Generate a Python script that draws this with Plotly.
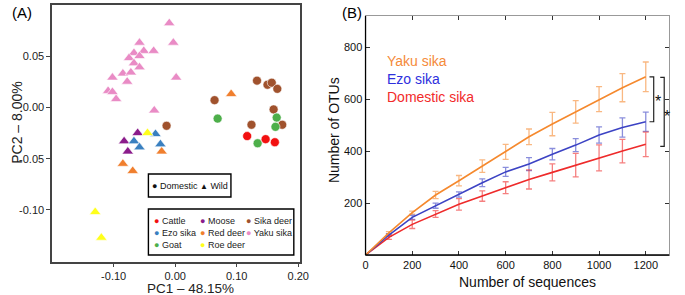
import plotly.graph_objects as go

# ---------------- Panel A data (PCA) ----------------
cattle_x = [0.117, 0.147, 0.162]
cattle_y = [-0.028, -0.031, -0.034]
goat_x = [0.069, 0.165, 0.163, 0.134]
goat_y = [-0.011, -0.010, -0.019, -0.035]
sika_x = [0.133, 0.150, 0.157, 0.166, 0.064, 0.160, 0.124, 0.174, -0.014]
sika_y = [0.026, 0.022, 0.024, 0.018, 0.007, -0.002, -0.017, -0.017, -0.018]
yaku_x = [-0.0096, -0.003, -0.058, -0.067, -0.051, -0.035, -0.058, -0.075, -0.067, -0.058,
          -0.085, -0.072, -0.102, 0.0016, -0.078, -0.109, -0.102, -0.096, -0.034]
yaku_y = [0.082, 0.063, 0.063, 0.053, 0.055, 0.055, 0.050, 0.048, 0.043, 0.039,
          0.033, 0.034, 0.029, 0.029, 0.025, 0.016, 0.015, 0.008, -0.003]
moose_x = [-0.061, -0.083, -0.077]
moose_y = [-0.025, -0.033, -0.043]
ezo_x = [-0.032, -0.067, -0.058, -0.024]
ezo_y = [-0.026, -0.033, -0.039, -0.036]
reddeer_x = [0.091, -0.022, -0.085, -0.069]
reddeer_y = [0.013, -0.043, -0.055, -0.062]
roe_x = [-0.045, -0.130, -0.120]
roe_y = [-0.025, -0.102, -0.127]

pca_xticks = [-0.10, 0.00, 0.10, 0.20]
pca_xticktext = ["-0.10", "0.00", "0.10", "0.20"]
pca_yticks = [0.05, 0.00, -0.05, -0.10]
pca_yticktext = ["0.05", "0.00", "-0.05", "-0.10"]

# ---------------- Panel B data (rarefaction) ----------------
seqs = [0, 100, 200, 300, 400, 500, 600, 700, 800, 900, 1000, 1100, 1200]
yaku_otu = [0, 85, 163, 231, 286, 342, 397, 455, 504, 551, 600, 644, 686]
yaku_err = [0, 5, 6, 14, 20, 24, 29, 30, 45, 43, 48, 54, 57]
ezo_otu = [0, 77, 145, 190, 233, 278, 320, 350, 388, 423, 462, 491, 513]
ezo_err = [0, 5, 8, 10, 10, 15, 17, 25, 22, 25, 31, 37, 37]
dom_otu = [0, 68, 118, 158, 195, 227, 259, 291, 318, 346, 374, 400, 426]
dom_err = [0, 8, 16, 13, 22, 20, 23, 37, 33, 45, 50, 45, 47]

otu_xticks = [0, 200, 400, 600, 800, 1000, 1200]
otu_yticks = [200, 400, 600, 800]

W, H = 685, 295
def px(x):
    return x / W
def py(y):
    return 1 - y / H

C = dict(cattle="#F21010", goat="#4DAF4A", sika="#A0522D", yaku="#E98BC5",
         moose="#8B1C8B", ezo="#3A80C0", reddeer="#F07F2E", roe="#FFFF1A")

fig = go.Figure()

def pts(x, y, col, sym):
    fig.add_trace(go.Scatter(
        x=x, y=y, mode="markers", xaxis="x", yaxis="y", showlegend=False,
        marker=dict(color=col, symbol=sym, size=10 if sym != "circle" else 9,
                    line=dict(color="white", width=0.6))))

pts(yaku_x, yaku_y, C["yaku"], "triangle-up")
pts(sika_x, sika_y, C["sika"], "circle")
pts(goat_x, goat_y, C["goat"], "circle")
pts(cattle_x, cattle_y, C["cattle"], "circle")
pts(reddeer_x, reddeer_y, C["reddeer"], "triangle-up")
pts(moose_x, moose_y, C["moose"], "triangle-up")
pts(ezo_x, ezo_y, C["ezo"], "triangle-up")
pts(roe_x, roe_y, C["roe"], "triangle-up")

# ---- Panel B ----
LC = dict(yaku="#F5892E", ezo="#3C43C4", dom="#EE2B2B")
EC = dict(yaku="rgba(245,137,46,0.6)", ezo="rgba(60,67,196,0.6)", dom="rgba(238,43,43,0.6)")
for key, vals, errs in [("yaku", yaku_otu, yaku_err), ("ezo", ezo_otu, ezo_err), ("dom", dom_otu, dom_err)]:
    fig.add_trace(go.Scatter(
        x=seqs[1:], y=vals[1:], mode="markers", xaxis="x2", yaxis="y2", showlegend=False,
        marker=dict(size=1, color="rgba(0,0,0,0)"),
        error_y=dict(type="data", array=errs[1:], visible=True, color=EC[key],
                     thickness=1.3, width=3)))
for key, vals in [("dom", dom_otu), ("ezo", ezo_otu), ("yaku", yaku_otu)]:
    fig.add_trace(go.Scatter(
        x=seqs, y=vals, mode="lines", xaxis="x2", yaxis="y2", showlegend=False,
        line=dict(color=LC[key], width=1.6)))

TF = "Liberation Sans, Arial, sans-serif"

fig.update_layout(
    width=W, height=H, margin=dict(l=0, r=0, t=0, b=0),
    paper_bgcolor="white", plot_bgcolor="white", showlegend=False,
    xaxis=dict(domain=[px(50), px(302)], range=[-0.2, 0.2024], anchor="y",
               tickvals=pca_xticks, ticktext=pca_xticktext, ticks="outside", ticklen=3,
               tickcolor="#444", showline=True, linecolor="#444", linewidth=1.5, mirror=True,
               showgrid=False, zeroline=False, tickfont=dict(family=TF, size=11, color="#222")),
    yaxis=dict(domain=[1 - 262 / H, 1 - 5 / H], range=[-0.1507, 0.0997], anchor="x",
               tickvals=pca_yticks, ticktext=pca_yticktext, ticks="outside", ticklen=4,
               tickcolor="#444", showline=True, linecolor="#444", linewidth=1.5, mirror=True,
               showgrid=False, zeroline=False, tickfont=dict(family=TF, size=11, color="#222")),
    xaxis2=dict(domain=[px(369), px(678)], range=[0, 1300], anchor="y2",
                tickvals=otu_xticks, ticks="inside", ticklen=4, tickcolor="#333",
                showline=True, linecolor="#999", linewidth=1, mirror="ticks",
                showgrid=False, zeroline=False, tickfont=dict(family=TF, size=11, color="#111")),
    yaxis2=dict(domain=[1 - 255 / H, 1 - 16 / H], range=[0, 920], anchor="x2",
                tickvals=otu_yticks, ticks="inside", ticklen=4, tickcolor="#333",
                showline=True, linecolor="#999", linewidth=1, mirror="ticks",
                showgrid=False, zeroline=False, tickfont=dict(family=TF, size=11, color="#111")),
)

shapes = []
# black left/bottom axis lines for panel B
shapes.append(dict(type="line", xref="paper", yref="paper", x0=px(369), x1=px(369),
                   y0=py(255), y1=py(16), line=dict(color="black", width=1.3)))
shapes.append(dict(type="line", xref="paper", yref="paper", x0=px(369), x1=px(678),
                   y0=py(255), y1=py(255), line=dict(color="black", width=1.3)))
# legend boxes panel A
shapes.append(dict(type="rect", xref="paper", yref="paper", x0=px(148), x1=px(232),
                   y0=py(197), y1=py(174), line=dict(color="black", width=1.4), fillcolor="white"))
shapes.append(dict(type="rect", xref="paper", yref="paper", x0=px(148), x1=px(296),
                   y0=py(255), y1=py(209), line=dict(color="black", width=1.4), fillcolor="white"))
# significance brackets
def bracket(xa, xb, ytop, ybot):
    return dict(type="path", xref="x2", yref="y2",
                path=f"M {xa},{ytop} L {xb},{ytop} L {xb},{ybot} L {xa},{ybot}",
                line=dict(color="#222", width=1.2))
shapes.append(bracket(1216, 1234, yaku_otu[-1], ezo_otu[-1]))
shapes.append(bracket(1262, 1279, yaku_otu[-1] - 2, dom_otu[-1] - 8))

ann = []
def text(x, y, t, size=11, color="black", xanchor="center", family=TF, angle=0, yanchor="middle"):
    ann.append(dict(x=px(x), y=py(y), xref="paper", yref="paper", text=t, showarrow=False,
                    xanchor=xanchor, yanchor=yanchor, textangle=angle, borderpad=0,
                    font=dict(size=size, color=color, family=family)))

text(8, 13, "(A)", size=15, xanchor="left")
text(344, 13, "(B)", size=15, xanchor="left")
text(191, 288, "PC1 – 48.15%", size=13.5, color="#222")
text(14, 122, "PC2 – 8.00%", size=14, color="#222", angle=-90)
text(534, 282, "Number of sequences", size=14, color="#111")
text(337, 130, "Number of OTUs", size=14, color="#111", angle=-90)

# legend 1
text(190, 186, "● Domestic <span style='font-size:8px'>▲</span> Wild", size=9, color="#111")
# legend 2
leg = [("Cattle", C["cattle"], 153, 221), ("Moose", C["moose"], 199, 221), ("Sika deer", C["sika"], 246, 221),
       ("Ezo sika", C["ezo"], 153, 233), ("Red deer", C["reddeer"], 199, 233), ("Yaku sika", C["yaku"], 246, 233),
       ("Goat", C["goat"], 153, 245), ("Roe deer", C["roe"], 199, 245)]
for name, col, x, y in leg:
    text(x, y, f"<span style='color:{col}'>●</span> {name}", size=9, color="#222", xanchor="left")

# panel B legend
text(390, 61, "Yaku sika", size=14, color="#F58A3A", xanchor="left")
text(390, 79, "Ezo sika", size=14, color="#2E30DD", xanchor="left")
text(390, 97, "Domestic sika", size=14, color="#F22A2A", xanchor="left")

# stars
ann.append(dict(x=1252, y=(yaku_otu[-1] + ezo_otu[-1]) / 2 - 8, xref="x2", yref="y2", text="*",
                showarrow=False, font=dict(size=16, color="#111", family=TF)))
ann.append(dict(x=1291, y=(yaku_otu[-1] + dom_otu[-1]) / 2 - 22, xref="x2", yref="y2", text="*",
                showarrow=False, font=dict(size=16, color="#111", family=TF)))

fig.update_layout(shapes=shapes, annotations=ann)
fig.write_html("out.html", config={"displayModeBar": False},
               post_script="document.body.style.margin='0';document.body.style.overflow='hidden';")
